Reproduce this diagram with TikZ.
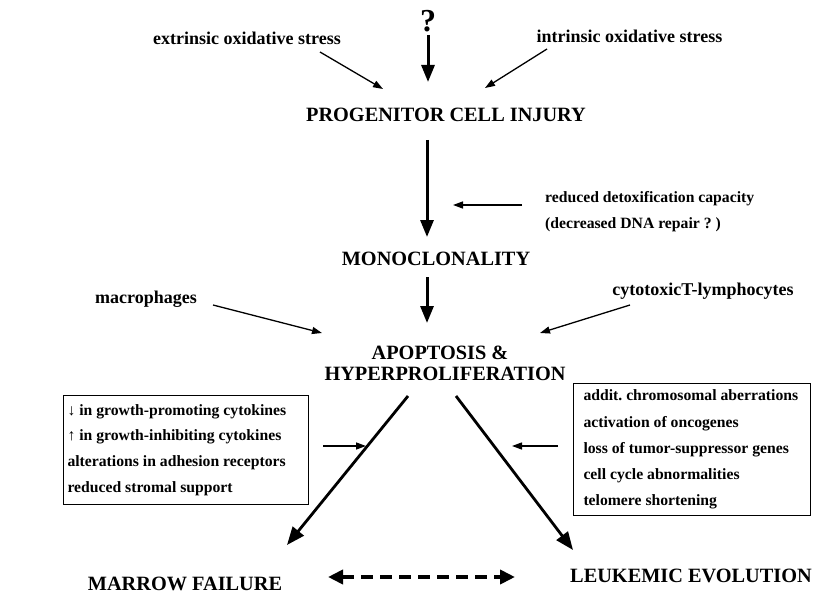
\documentclass[tikz,border=0pt]{standalone}
\usepackage{fontspec}
\setmainfont{Liberation Serif}
\usetikzlibrary{arrows.meta}
\frenchspacing
\begin{document}
\begin{tikzpicture}[x=1pt,y=-1pt,
  big/.style={font=\fontsize{20.3}{22}\selectfont\bfseries, inner sep=0pt},
  lab/.style={font=\fontsize{18}{20}\selectfont\bfseries, inner sep=0pt},
  small/.style={font=\fontsize{15.7}{26}\selectfont\bfseries, inner sep=0pt},
  listbox/.style={draw, line width=1pt, anchor=north west, align=flush left, inner ysep=0pt},
  heavyarrow/.style={line width=3pt, -{Triangle[length=17pt,width=13pt]}},
  diagarrow/.style={line width=2.8pt, -{Triangle[length=18pt,width=14pt]}},
  lightarrow/.style={line width=1.3pt, -{Triangle[length=10pt,width=7pt]}},
  dasharrow/.style={line width=4pt, dash pattern=on 12pt off 7pt, {Triangle[length=15pt,width=14pt]}-{Triangle[length=15pt,width=14pt]}}
  ]
\useasboundingbox (0,0) rectangle (817,615);

% texts
\node[anchor=base, inner sep=0pt, font=\fontsize{32}{32}\selectfont\bfseries] (q) at (428,32) {?};
\node[lab, anchor=base] (ext) at (247,45) {extrinsic oxidative stress};
\node[lab, anchor=base] (int) at (629.5,43) {intrinsic oxidative stress};
\node[big, anchor=base] (prog) at (446,122) {PROGENITOR CELL INJURY};
\node[small, anchor=base west] (detox1) at (545,202) {reduced detoxification capacity};
\node[small, anchor=base west] (detox2) at (545,228) {(decreased DNA repair ? )};
\node[big, anchor=base] (mono) at (436,265) {MONOCLONALITY};
\node[lab, anchor=base] (macro) at (146,303) {macrophages};
\node[lab, anchor=base] (cyto) at (703,295) {cytotoxicT-lymphocytes};
\node[big, anchor=base] (apop1) at (440,359) {APOPTOSIS \&};
\node[big, anchor=base] (apop2) at (445,380) {HYPERPROLIFERATION};

\node[listbox, small, font=\fontsize{15.7}{25.7}\selectfont\bfseries,
      minimum width=245pt, minimum height=109pt, text width=237pt, inner xsep=4pt]
  (lbox) at (63,395) {↓ in growth-promoting cytokines\\
  ↑ in growth-inhibiting cytokines\\
  alterations in adhesion receptors\\
  reduced stromal support};

\node[listbox, small, font=\fontsize{15.7}{26.2}\selectfont\bfseries,
      minimum width=237pt, minimum height=132pt, text width=217pt, inner xsep=10pt]
  (rbox) at (573,383) {addit. chromosomal aberrations\\
  activation of oncogenes\\
  loss of tumor-suppressor genes\\
  cell cycle abnormalities\\
  telomere shortening};

\node[big, anchor=base] (marrow) at (185,590) {MARROW FAILURE};
\node[big, anchor=base] (leuk) at (691,582) {LEUKEMIC EVOLUTION};

% connector end points
\coordinate (qa) at (428,35);   \coordinate (qb) at (428,82);
\coordinate (ea) at (320,52);   \coordinate (eb) at (383,89);
\coordinate (ia) at (547,49);   \coordinate (ib) at (485,88);
\coordinate (pa) at (427,140);  \coordinate (pb) at (427,237);
\coordinate (da) at (522,205);  \coordinate (db) at (453,205);
\coordinate (ma) at (427,277);  \coordinate (mb) at (427,323);
\coordinate (mca) at (213,305); \coordinate (mcb) at (322,333);
\coordinate (cya) at (630,305); \coordinate (cyb) at (540,333);
\coordinate (la) at (408,396);  \coordinate (lb) at (287,545);
\coordinate (ra) at (456,396);  \coordinate (rb) at (573,550);
\coordinate (lsa) at (323,446); \coordinate (lsb) at (366,446);
\coordinate (rsa) at (558,446); \coordinate (rsb) at (512,446);
\coordinate (dla) at (328,577); \coordinate (dlb) at (515,577);

% connectors
\draw[heavyarrow] (qa) -- (qb);
\draw[lightarrow] (ea) -- (eb);
\draw[lightarrow] (ia) -- (ib);
\draw[heavyarrow] (pa) -- (pb);
\draw[lightarrow] (da) -- (db);
\draw[heavyarrow] (ma) -- (mb);
\draw[lightarrow] (mca) -- (mcb);
\draw[lightarrow] (cya) -- (cyb);
\draw[diagarrow] (la) -- (lb);
\draw[diagarrow] (ra) -- (rb);
\draw[lightarrow] (lsa) -- (lsb);
\draw[lightarrow] (rsa) -- (rsb);
\draw[dasharrow] (dla) -- (dlb);
\end{tikzpicture}
\end{document}
